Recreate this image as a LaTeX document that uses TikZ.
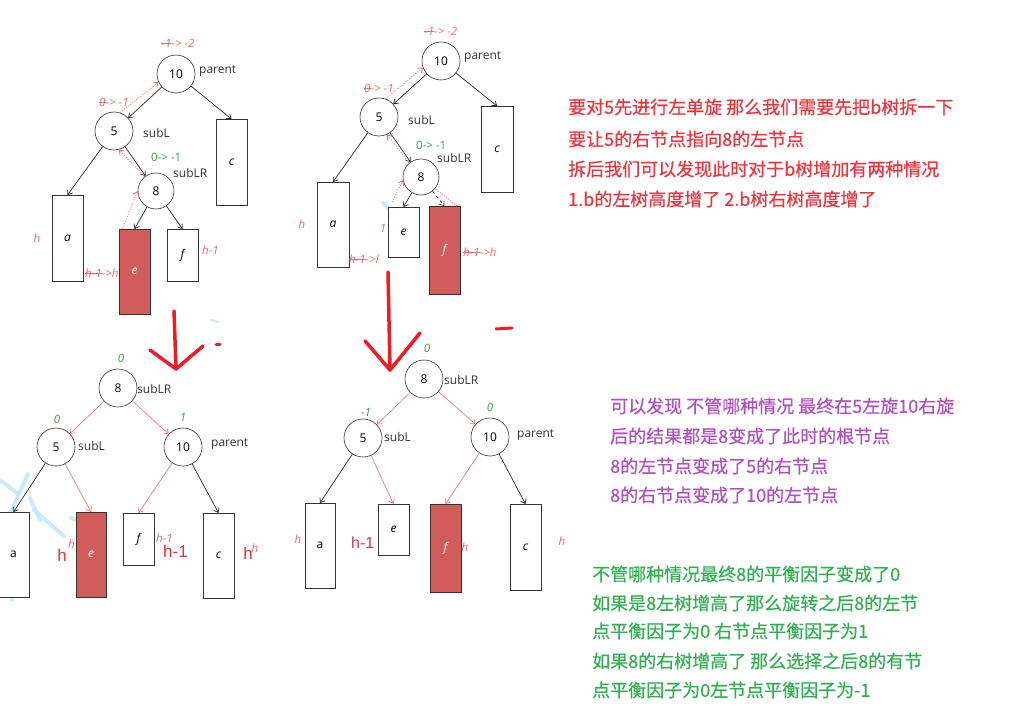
\documentclass[tikz,border=0pt]{standalone}
\usepackage{fontspec}
\setmainfont{Open Sans}
\newfontfamily\cjk[FakeBold=0.5]{Noto Sans CJK SC}
\newfontfamily\arialf{Liberation Sans}
\usetikzlibrary{arrows.meta}
\definecolor{annred}{HTML}{E8686A}
\definecolor{edgered}{HTML}{E07070}
\definecolor{boxred}{HTML}{D25C5C}
\definecolor{anngreen}{HTML}{3C9A4E}
\definecolor{txtred}{HTML}{F0323C}
\definecolor{txtpurple}{HTML}{B050C0}
\definecolor{txtgreen}{HTML}{30B050}
\definecolor{handred}{HTML}{EE1C24}
\definecolor{bigred}{HTML}{E83038}
\definecolor{scrib}{HTML}{BFE9F7}
\newcommand\stk[1]{\setbox0\hbox{#1}\rlap{\rule[0.55ex]{\wd0}{0.5pt}}\box0}
\tikzset{
  circ/.style={circle, draw=black!80, line width=0.6pt, minimum size=38pt, inner sep=0pt, font=\fontsize{12}{14}\selectfont},
  wbox/.style={draw=black!80, line width=0.9pt, fill=white, minimum width=31pt, inner sep=0pt, outer sep=0pt, font=\fontsize{12}{14}\selectfont\itshape},
  rbox/.style={wbox, fill=boxred, text=white},
  lbl/.style={anchor=west, inner sep=0pt, font=\fontsize{12}{14}\selectfont, text=black!80},
  ann/.style={inner sep=0pt, font=\fontsize{11.5}{13}\selectfont\itshape, text=annred},
  gann/.style={inner sep=0pt, font=\fontsize{11.5}{13}\selectfont, text=anngreen},
  giann/.style={inner sep=0pt, font=\fontsize{11.5}{13}\selectfont\itshape, text=anngreen},
  blk/.style={-{Straight Barb[length=4pt,width=6pt]}, line width=0.7pt, black!85},
  redge/.style={-{Straight Barb[length=4pt,width=6pt]}, line width=0.6pt, edgered},
  dotarr/.style={-{Straight Barb[length=4pt,width=6pt]}, line width=0.8pt, annred, dash pattern=on 1pt off 1.6pt},
  hand/.style={line width=3.5pt, handred, line cap=round, line join=round},
  bigh/.style={inner sep=0pt, font=\arialf\fontsize{17}{19}\selectfont, text=bigred},
  para/.style={anchor=west, inner sep=0pt, font=\cjk\fontsize{18}{20}\selectfont},
  scr/.style={scrib, line width=4pt, line cap=round, opacity=0.85}
}
\begin{document}
\begin{tikzpicture}[x=1pt,y=-1pt]
\useasboundingbox (0,0) rectangle (1009,706);

% light blue scribbles
\draw[scr] (0,480) -- (18,494);
\draw[scr] (28,474) -- (6,522);
\draw[scr] (14,522) .. controls (24,550) and (20,575) .. (12,600);
\draw[scr] (34,510) -- (64,536);
\draw[scr] (30,498) -- (40,520);
\draw[scr] (71,518) -- (82,522);
\draw[scr] (4,545) -- (0,575);
\draw[scr, line width=2pt] (211,320) -- (218,322);
\draw[scr] (383,203) -- (390,210);

% ===== top-left tree =====
\node[circ] (a10) at (176,74) {10};
\node[circ] (a5) at (114,131) {5};
\node[circ, minimum size=36pt] (a8) at (156,191) {8};
\node[wbox, minimum height=86pt] (a1a) at (67.5,238) {a};
\node[rbox, minimum height=85pt] (a1e) at (134.5,271.5) {e};
\node[wbox, minimum height=52pt] (a1f) at (182.5,255) {f};
\node[wbox, minimum height=86pt] (a1c) at (231.5,162) {c};
\draw[blk] (a10) -- (a5);
\draw[blk] (a10) -- (a1c.north);
\draw[blk] (a5) -- (a1a.north);
\draw[blk] (a5) -- (a8);
\draw[blk] (a8) -- (a1e.north);
\draw[blk] (a8) -- (a1f.north);
\draw[dotarr] (a5.72) -- (a10.205);
\draw[dotarr] (a8.128) -- (a5.-75);
\draw[dotarr] (a1e.north west) ++(3,0) coordinate (a1et) -- (a8.180);
\node[lbl] (a10l) at (199,71) {parent};
\node[lbl] (a5l) at (143,133) {subL};
\node[lbl] (a8l) at (173,173) {subLR};
\node[ann] (a10n) at (178,43) {\stk{-1} -> -2};
\node[ann, anchor=west] (a5n) at (99,102) {\stk{0} -> -1};
\node[gann, anchor=west] (a8n) at (151,157) {0-> -1};
\node[ann] (a1h) at (37,238) {h};
\node[ann, anchor=west] (a1hh) at (85,273) {\stk{h-1}->h};
\node[ann, anchor=west] (a1h1) at (202,250) {h-1};

% ===== top-middle tree =====
\node[circ] (b10) at (441,61) {10};
\node[circ] (b5) at (379,117) {5};
\node[circ, minimum size=36pt] (b8) at (421,177) {8};
\node[wbox, minimum height=85pt, minimum width=32pt] (b1a) at (333,224.5) {a};
\node[wbox, minimum height=50pt] (b1e) at (403.5,232) {e};
\node[rbox, minimum height=88pt] (b1f) at (444.5,250) {f};
\node[wbox, minimum height=86pt, minimum width=32pt] (b1c) at (497,149) {c};
\draw[blk] (b10) -- (b5);
\draw[blk] (b10) -- (b1c.north);
\draw[blk] (b5) -- (b1a.north);
\draw[blk] (b5) -- (b8);
\draw[blk] (b8) -- (b1e.north);
\draw[blk, dashed] (b8) -- (b1f.north);
\draw[dotarr] (b5.70) -- (b10.200);
\draw[dotarr] (b8.130) -- (b5.-65);
\draw[dotarr] (b1e.north west) ++(4,-5) coordinate (b1et) -- (b8.190);
\draw[annred, line width=0.8pt, dash pattern=on 1pt off 1.6pt] (b1f.north east) ++(-3,0) coordinate (b1ft) -- (b8.-40);
\node[lbl] (b10l) at (464,57) {parent};
\node[lbl] (b5l) at (408,120) {subL};
\node[lbl] (b8l) at (437,158) {subLR};
\node[ann, anchor=west] (b10n) at (424,31) {\stk{-1} -> -2};
\node[ann, anchor=west] (b5n) at (364,88) {\stk{0} -> -1};
\node[gann, anchor=west] (b8n) at (416,145) {0-> -1};
\node[ann] (b1h) at (302,224) {h};
\node[ann] (b1one) at (383,228) {1};
\node[ann, anchor=west] (b1hh) at (349,259) {\stk{h-1}->l};
\node[ann, anchor=west] (b1h2) at (463,252) {\stk{h-1}->h};

% ===== bottom-left tree =====
\node[circ] (c8) at (118,388) {8};
\node[circ] (c5) at (56,447) {5};
\node[circ] (c10) at (183,447) {10};
\node[wbox, minimum height=85pt, font=\fontsize{12}{14}\selectfont] (c1a) at (13.5,554.5) {a};
\node[rbox, minimum height=85pt, minimum width=30pt] (c1e) at (91,554.5) {e};
\node[wbox, minimum height=52pt] (c1f) at (138.5,539) {f};
\node[wbox, minimum height=85pt] (c1c) at (218.5,555.5) {c};
\draw[redge] (c8) -- (c5);
\draw[redge] (c8) -- (c10);
\draw[blk] (c5) -- (c1a.north);
\draw[redge] (c5) -- (c1e.north);
\draw[redge] (c10) -- (c1f.north);
\draw[blk] (c10) -- (c1c.north);
\node[lbl] (c8l) at (137,389) {subLR};
\node[lbl] (c5l) at (78,446) {subL};
\node[lbl] (c10l) at (211,444) {parent};
\node[giann] (c8n) at (121,358) {0};
\node[giann] (c5n) at (57,419) {0};
\node[giann] (c10n) at (183,417) {1};
\node[ann, anchor=west] (c1h1) at (156,538) {h-1};
\node[bigh, anchor=west] (c1h1b) at (163,551) {h-1};
\node[bigh] (c1hb) at (62,555) {h};
\node[ann, anchor=west] (c1hs) at (68,544) {h};
\node[bigh] (c1hc) at (248,553) {h};
\node[ann] (c1hcs) at (255,548) {h};

% ===== bottom-middle tree =====
\node[circ] (d8) at (424,379) {8};
\node[circ] (d5) at (363,438) {5};
\node[circ] (d10) at (490,437) {10};
\node[wbox, minimum height=85pt, minimum width=30pt, font=\fontsize{12}{14}\selectfont] (d1a) at (320,545.5) {a};
\node[wbox, minimum height=51pt] (d1e) at (393.5,529.5) {e};
\node[rbox, minimum height=88pt] (d1f) at (445.5,548) {f};
\node[wbox, minimum height=86pt] (d1c) at (525.5,547) {c};
\draw[redge] (d8) -- (d5);
\draw[redge] (d8) -- (d10);
\draw[blk] (d5) -- (d1a.north);
\draw[redge] (d5) -- (d1e.north);
\draw[redge] (d10) -- (d1f.north);
\draw[blk] (d10) -- (d1c.north);
\node[lbl] (d8l) at (444,380) {subLR};
\node[lbl] (d5l) at (384,437) {subL};
\node[lbl] (d10l) at (517,435) {parent};
\node[giann] (d8n) at (427,348) {0};
\node[giann] (d5n) at (366,412) {-1};
\node[giann] (d10n) at (490,407) {0};
\node[ann] (d1h) at (298,539) {h};
\node[bigh, anchor=west, font=\arialf\fontsize{16}{18}\selectfont] (d1h1) at (351,543) {h-1};
\node[ann] (d1hf) at (465,547) {h};
\node[ann] (d1hc) at (562,541) {h};

% ===== hand-drawn red arrows =====
\coordinate (h1s) at (174,311);
\coordinate (h1e) at (176,369);
\draw[hand] (h1s) -- (h1e);
\draw[hand] (150,350) -- (h1e) -- (203,346);
\draw[hand, line width=3pt] (216,344) -- (220,344);
\coordinate (h2s) at (388,272);
\coordinate (h2e) at (390,370);
\draw[hand] (h2s) -- (h2e);
\draw[hand] (365,341) -- (h2e) -- (420,333);
\draw[hand, line width=3pt] (496,329) -- (512,328);

% ===== text blocks =====
\begin{scope}[every node/.append style={para, text=txtred}]
\node (r1) at (568,107) {要对5先进行左单旋 那么我们需要先把b树拆一下};
\node (r2) at (568,139) {要让5的右节点指向8的左节点};
\node (r3) at (568,169) {拆后我们可以发现此时对于b树增加有两种情况};
\node (r4) at (568,199) {1.b的左树高度增了 2.b树右树高度增了};
\end{scope}
\begin{scope}[every node/.append style={para, text=txtpurple}]
\node (p1) at (610,406) {可以发现 不管哪种情况 最终在5左旋10右旋};
\node (p2) at (610,436) {后的结果都是8变成了此时的根节点};
\node (p3) at (610,466) {8的左节点变成了5的右节点};
\node (p4) at (610,495) {8的右节点变成了10的左节点};
\end{scope}
\begin{scope}[every node/.append style={para, text=txtgreen}]
\node (g1) at (592,574) {不管哪种情况最终8的平衡因子变成了0};
\node (g2) at (592,603) {如果是8左树增高了那么旋转之后8的左节};
\node (g3) at (592,631) {点平衡因子为0 右节点平衡因子为1};
\node (g4) at (592,661) {如果8的右树增高了 那么选择之后8的有节};
\node (g5) at (592,690) {点平衡因子为0左节点平衡因子为-1};
\end{scope}
\end{tikzpicture}
\end{document}
